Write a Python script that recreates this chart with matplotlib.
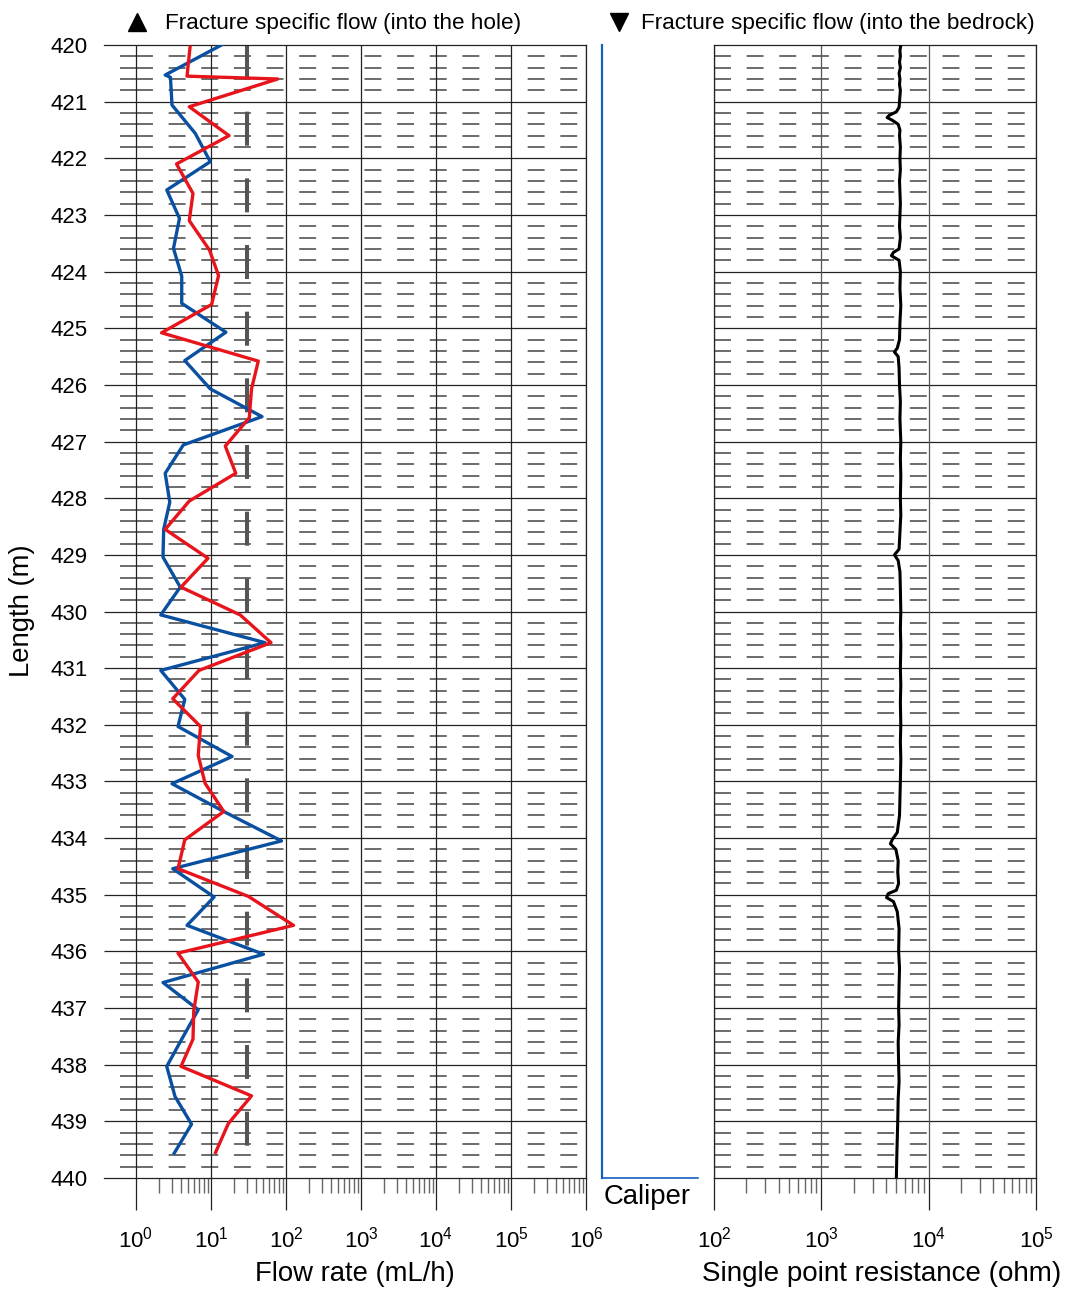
import numpy as np
import matplotlib
matplotlib.use("Agg")
import matplotlib.pyplot as plt
from matplotlib.ticker import LogLocator, FixedLocator, NullFormatter

plt.rcParams['font.family'] = ['Liberation Sans', 'DejaVu Sans']
plt.rcParams['mathtext.fontset'] = 'custom'
plt.rcParams['mathtext.rm'] = 'Liberation Sans'
plt.rcParams['mathtext.it'] = 'Liberation Sans:italic'
plt.rcParams['lines.scale_dashes'] = False

# flow into the hole (blue), mL/h
blue_depth = [420.0, 420.53, 420.57, 421.06, 421.56, 422.06, 422.56, 423.06, 423.59, 424.08,
              424.56, 425.07, 425.57, 426.07, 426.56, 427.06, 427.56, 428.07, 428.55, 429.04,
              429.57, 430.06, 430.55, 431.04, 431.55, 432.03, 432.56, 433.04, 433.55, 434.05,
              434.54, 435.04, 435.54, 436.05, 436.55, 437.03, 437.55, 438.03, 438.56, 439.05,
              439.56]
blue_flow = [13.8, 2.45, 2.88, 3.02, 6.17, 9.77, 2.57, 3.80, 3.16, 4.07,
             4.07, 15.8, 4.47, 9.77, 47.9, 4.27, 2.45, 2.82, 2.34, 2.29,
             3.89, 2.14, 52.5, 2.14, 4.47, 3.63, 19.1, 3.02, 15.8, 87.1,
             3.09, 11.0, 4.79, 50.1, 2.29, 6.76, 4.07, 2.57, 3.31, 5.50,
             3.24]

# flow into the bedrock (red), mL/h
red_depth = [420.04, 420.55, 420.6, 421.09, 421.6, 422.1, 422.62, 423.1, 423.62, 424.07,
             424.58, 425.08, 425.58, 426.07, 426.58, 427.08, 427.56, 428.05, 428.55, 429.06,
             429.57, 430.06, 430.55, 431.04, 431.54, 432.03, 432.54, 433.03, 433.53, 434.03,
             434.54, 435.03, 435.54, 436.03, 436.54, 437.05, 437.55, 438.03, 438.55, 439.04,
             439.55]
red_flow = [5.25, 4.79, 77.6, 5.13, 17.4, 3.47, 5.75, 5.13, 9.55, 12.6,
            10.2, 2.19, 42.7, 34.7, 32.4, 15.5, 21.4, 5.13, 2.45, 9.12,
            3.98, 24.5, 63.1, 6.92, 3.09, 7.24, 6.76, 8.32, 14.8, 4.47,
            3.63, 31.6, 126.0, 3.63, 6.76, 5.89, 5.75, 3.98, 34.7, 17.0,
            11.5]

limit_flow = 30  # lower measurement limit

caliper_depth = [420.0, 440.0]
caliper_value = [0.0, 0.0]

res_depth = [420.0, 420.1, 420.2, 420.3, 420.4, 420.5, 420.6, 420.7, 420.8, 420.9,
             421.0, 421.1, 421.18, 421.24, 421.28, 421.33, 421.4, 421.5, 421.6, 421.8,
             422.0, 422.2, 422.4, 422.6, 422.8, 423.0, 423.2, 423.4, 423.6, 423.66,
             423.72, 423.8, 424.0, 424.3, 424.6, 424.9, 425.2, 425.35, 425.42, 425.5,
             425.7, 426.0, 426.3, 426.6, 427.0, 427.3, 427.6, 428.0, 428.3, 428.6,
             428.9, 429.0, 429.1, 429.3, 429.6, 430.0, 430.3, 430.6, 431.0, 431.3,
             431.6, 432.0, 432.3, 432.6, 433.0, 433.3, 433.6, 433.9, 434.02, 434.1,
             434.2, 434.4, 434.6, 434.8, 434.92, 434.98, 435.05, 435.12, 435.3, 435.6,
             436.0, 436.3, 436.6, 437.0, 437.3, 437.6, 438.0, 438.3, 438.6, 439.0,
             439.3, 439.6, 440.0]
res_ohm = [5500, 5400, 5450, 5350, 5450, 5300, 5400, 5350, 5450, 5400,
           5350, 5300, 5000, 4300, 4100, 4600, 5200, 5400, 5350, 5450,
           5400, 5450, 5350, 5400, 5450, 5400, 5350, 5450, 5300, 4700,
           4500, 5300, 5450, 5400, 5500, 5400, 5350, 5100, 4800, 5200,
           5300, 5350, 5450, 5400, 5500, 5450, 5500, 5450, 5500, 5400,
           5300, 4800, 5200, 5400, 5450, 5500, 5450, 5500, 5450, 5500,
           5450, 5500, 5450, 5500, 5450, 5400, 5350, 5100, 4600, 4400,
           4950, 5200, 5150, 5250, 5000, 4200, 4050, 4700, 5100, 5300,
           5250, 5350, 5300, 5250, 5300, 5200, 5250, 5300, 5200, 5150,
           5100, 5050, 5000]

W, H = 1068, 1289
fig = plt.figure(figsize=(W / 100, H / 100), dpi=100)


def box(x0, x1, y0=45, y1=1178):
    return [x0 / W, 1 - y1 / H, (x1 - x0) / W, (y1 - y0) / H]


def minor_log_ticks(lo, hi):
    return [m * 10.0 ** e for e in range(lo, hi) for m in range(2, 10)]


dash_pat = (0, (12.2, 11.3))
minor_depths = [420 + 0.2 * i for i in range(1, 100) if i % 5 != 0]
major_depths = list(range(421, 440))
grid_col = '#222222'
dash_col = '#444444'

# ---- flow panel
ax = fig.add_axes(box(104, 586))
xmin_flow = 10 ** (-32 / 75)
ax.set_xscale('log')
ax.set_xlim(xmin_flow, 1e6)
ax.set_ylim(440, 420)
ax.hlines(major_depths, xmin_flow, 1e6, colors=grid_col, lw=0.9, zorder=1)
ax.hlines(minor_depths, 1, 1e6, colors=dash_col, lw=1.1, linestyles=[dash_pat], zorder=1)
ax.hlines(minor_depths, 10 ** (-16 / 75), 1, colors=dash_col, lw=1.1, zorder=1)
ax.grid(axis='x', which='major', color=grid_col, lw=0.9, zorder=1)
ax.plot([limit_flow, limit_flow], [420, 440], color='#555555', lw=2.9,
        dashes=(24.5, 23.5), solid_capstyle='butt', zorder=2)
ax.plot(blue_flow, blue_depth, color='#0a50a0', lw=2.4, zorder=3)
ax.plot(red_flow, red_depth, color='#e8141c', lw=2.4, zorder=3)

ax.spines['left'].set_visible(False)
for s in ['top', 'bottom', 'right']:
    ax.spines[s].set_color(grid_col)
    ax.spines[s].set_linewidth(0.9)
ax.set_yticks(range(420, 441))
ax.tick_params(axis='y', length=0, pad=12, labelsize=16)
ax.set_xticks([1, 10, 100, 1e3, 1e4, 1e5, 1e6])
ax.xaxis.set_minor_locator(FixedLocator(minor_log_ticks(0, 6)))
ax.xaxis.set_minor_formatter(NullFormatter())
ax.tick_params(axis='x', which='major', length=23, width=0.9, color=grid_col,
               labelsize=16, pad=12)
ax.tick_params(axis='x', which='minor', length=11, width=1.0, color='#666666')

# ---- caliper panel
axc = fig.add_axes(box(602, 698))
axc.set_xlim(0, 1)
axc.set_ylim(440, 420)
axc.plot(caliper_value, caliper_depth, color='#1560bd', lw=1.6, clip_on=False)
for s in ['top', 'left', 'right']:
    axc.spines[s].set_visible(False)
axc.spines['bottom'].set_color('#1560bd')
axc.spines['bottom'].set_linewidth(1.2)
axc.set_xticks([])
axc.set_yticks([])

# ---- resistance panel
axr = fig.add_axes(box(714, 1036))
axr.set_xscale('log')
axr.set_xlim(1e2, 1e5)
axr.set_ylim(440, 420)
axr.hlines(major_depths, 1e2, 1e5, colors=grid_col, lw=0.9, zorder=1)
axr.hlines(minor_depths, 1e2, 1e5, colors=dash_col, lw=1.1, linestyles=[dash_pat], zorder=1)
axr.grid(axis='x', which='major', color='#555555', lw=0.9, zorder=1)
axr.plot(res_ohm, res_depth, color='black', lw=2.2, zorder=3)
for s in axr.spines.values():
    s.set_color(grid_col)
    s.set_linewidth(0.9)
axr.set_yticks([])
axr.set_xticks([1e2, 1e3, 1e4, 1e5])
axr.xaxis.set_minor_locator(FixedLocator(minor_log_ticks(2, 5)))
axr.xaxis.set_minor_formatter(NullFormatter())
axr.tick_params(axis='x', which='major', length=23, width=0.9, color=grid_col,
                labelsize=16, pad=12)
axr.tick_params(axis='x', which='minor', length=11, width=1.0, color='#666666')

# ---- labels
fig.text(22 / W, 1 - 611 / H, 'Length (m)', rotation=90, ha='center', va='center', fontsize=19.8)
fig.text(355 / W, 1 - 1274 / H, 'Flow rate (mL/h)', ha='center', va='center', fontsize=19.8)
fig.text(882 / W, 1 - 1274 / H, 'Single point resistance (ohm)', ha='center', va='center',
         fontsize=20)
fig.text(647 / W, 1 - 1197 / H, 'Caliper', ha='center', va='center', fontsize=19.8)

fig.text(165 / W, 1 - 23 / H, 'Fracture specific flow (into the hole)', ha='left',
         va='center', fontsize=16.2)
fig.text(641 / W, 1 - 23 / H, 'Fracture specific flow (into the bedrock)', ha='left',
         va='center', fontsize=16.2)
fig.lines.append(plt.Line2D([137 / W], [1 - 22 / H], marker='^', ms=13, color='black',
                            transform=fig.transFigure))
fig.lines.append(plt.Line2D([619 / W], [1 - 22 / H], marker='v', ms=13, color='black',
                            transform=fig.transFigure))

fig.savefig('out.png', dpi=100)
